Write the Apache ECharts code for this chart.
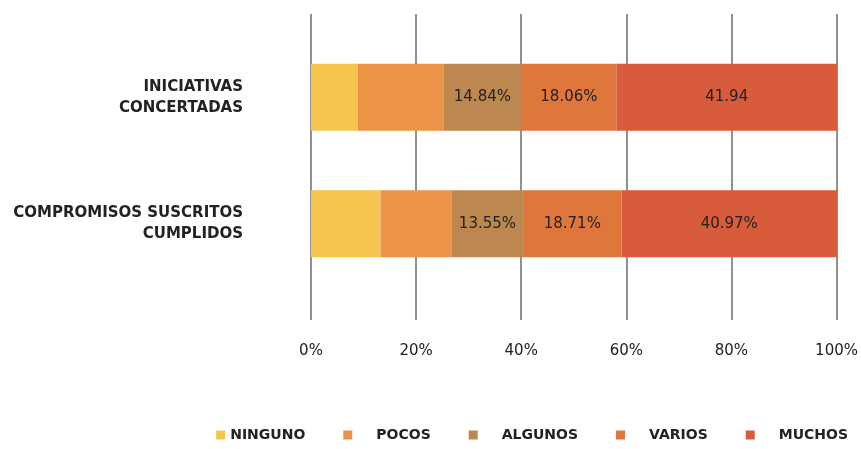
<!DOCTYPE html>
<html>
<head>
<meta charset="utf-8">
<script src="https://cdn.jsdelivr.net/npm/echarts@6/dist/echarts.min.js"></script>
<style>
  html, body { margin: 0; padding: 0; background: #fff; }
  #main { width: 861px; height: 449px; }
</style>
</head>
<body>
<div id="main"></div>
<script>
// categorias (de arriba hacia abajo)
var categories = ['INICIATIVAS\nCONCERTADAS', 'COMPROMISOS SUSCRITOS\nCUMPLIDOS'];
var seriesNames = ['NINGUNO', 'POCOS', 'ALGUNOS', 'VARIOS', 'MUCHOS'];
var ninguno = [8.9, 13.2];
var pocos = [16.26, 13.57];
var algunos = [14.84, 13.55];
var varios = [18.06, 18.71];
var muchos = [41.94, 40.97];
// etiquetas tal como aparecen (null = sin etiqueta)
var labelTexts = [
  [null, null],
  [null, null],
  ['14.84%', '13.55%'],
  ['18.06%', '18.71%'],
  ['41.94', '40.97%']
];
var tickLabels = ['0%', '20%', '40%', '60%', '80%', '100%'];
var colors = ['#F4C54F', '#EC9446', '#BC8850', '#DF773D', '#D85B3C'];

var values = [ninguno, pocos, algunos, varios, muchos];
var FONT = 'DejaVu Sans';
var TEXT = '#222222';

var chart = echarts.init(document.getElementById('main'), null, { renderer: 'canvas' });

var series = seriesNames.map(function (name, i) {
  return {
    name: name,
    type: 'bar',
    stack: 'total',
    xAxisIndex: 1,
    yAxisIndex: 1,
    barWidth: 67,
    itemStyle: { color: colors[i] },
    label: {
      show: labelTexts[i][0] !== null,
      position: 'inside',
      color: TEXT,
      fontFamily: FONT,
      fontSize: 15,
      formatter: function (p) { return labelTexts[i][p.dataIndex] || ''; }
    },
    data: values[i]
  };
});

var option = {
  animation: false,
  color: colors,
  legend: {
    data: seriesNames,
    right: 8,
    bottom: 2,
    itemWidth: 9,
    itemHeight: 9,
    itemGap: 38,
    icon: 'rect',
    formatter: function (name) {
      return name === seriesNames[0] ? name : '{pad|}' + name;
    },
    textStyle: {
      fontFamily: FONT,
      fontSize: 14,
      fontWeight: 'bold',
      color: TEXT,
      rich: { pad: { width: 19 } }
    }
  },
  grid: [
    // rejilla de lineas verticales
    { left: 311, right: 24, top: 14, bottom: 129 },
    // barras
    { left: 311, right: 24, top: 34, height: 253 }
  ],
  xAxis: [
    {
      gridIndex: 0,
      type: 'value',
      min: 0,
      max: 100,
      interval: 20,
      axisLine: { show: false },
      axisTick: { show: false },
      splitLine: { show: true, lineStyle: { color: '#6b6b6b', width: 1.5 } },
      axisLabel: {
        margin: 24,
        fontFamily: FONT,
        fontSize: 15,
        color: TEXT,
        formatter: function (v) { return tickLabels[Math.round(v / 20)]; }
      }
    },
    {
      gridIndex: 1,
      type: 'value',
      min: 0,
      max: 100,
      show: false,
      splitLine: { show: false }
    }
  ],
  yAxis: [
    { gridIndex: 0, type: 'category', data: categories, show: false, inverse: true },
    {
      gridIndex: 1,
      type: 'category',
      data: categories,
      inverse: true,
      axisLine: { show: false },
      axisTick: { show: false },
      splitLine: { show: false },
      axisLabel: {
        margin: 68,
        align: 'right',
        lineHeight: 21,
        fontFamily: FONT,
        fontSize: 15,
        fontWeight: 'bold',
        color: TEXT
      }
    }
  ],
  series: series
};

chart.setOption(option);
</script>
</body>
</html>
